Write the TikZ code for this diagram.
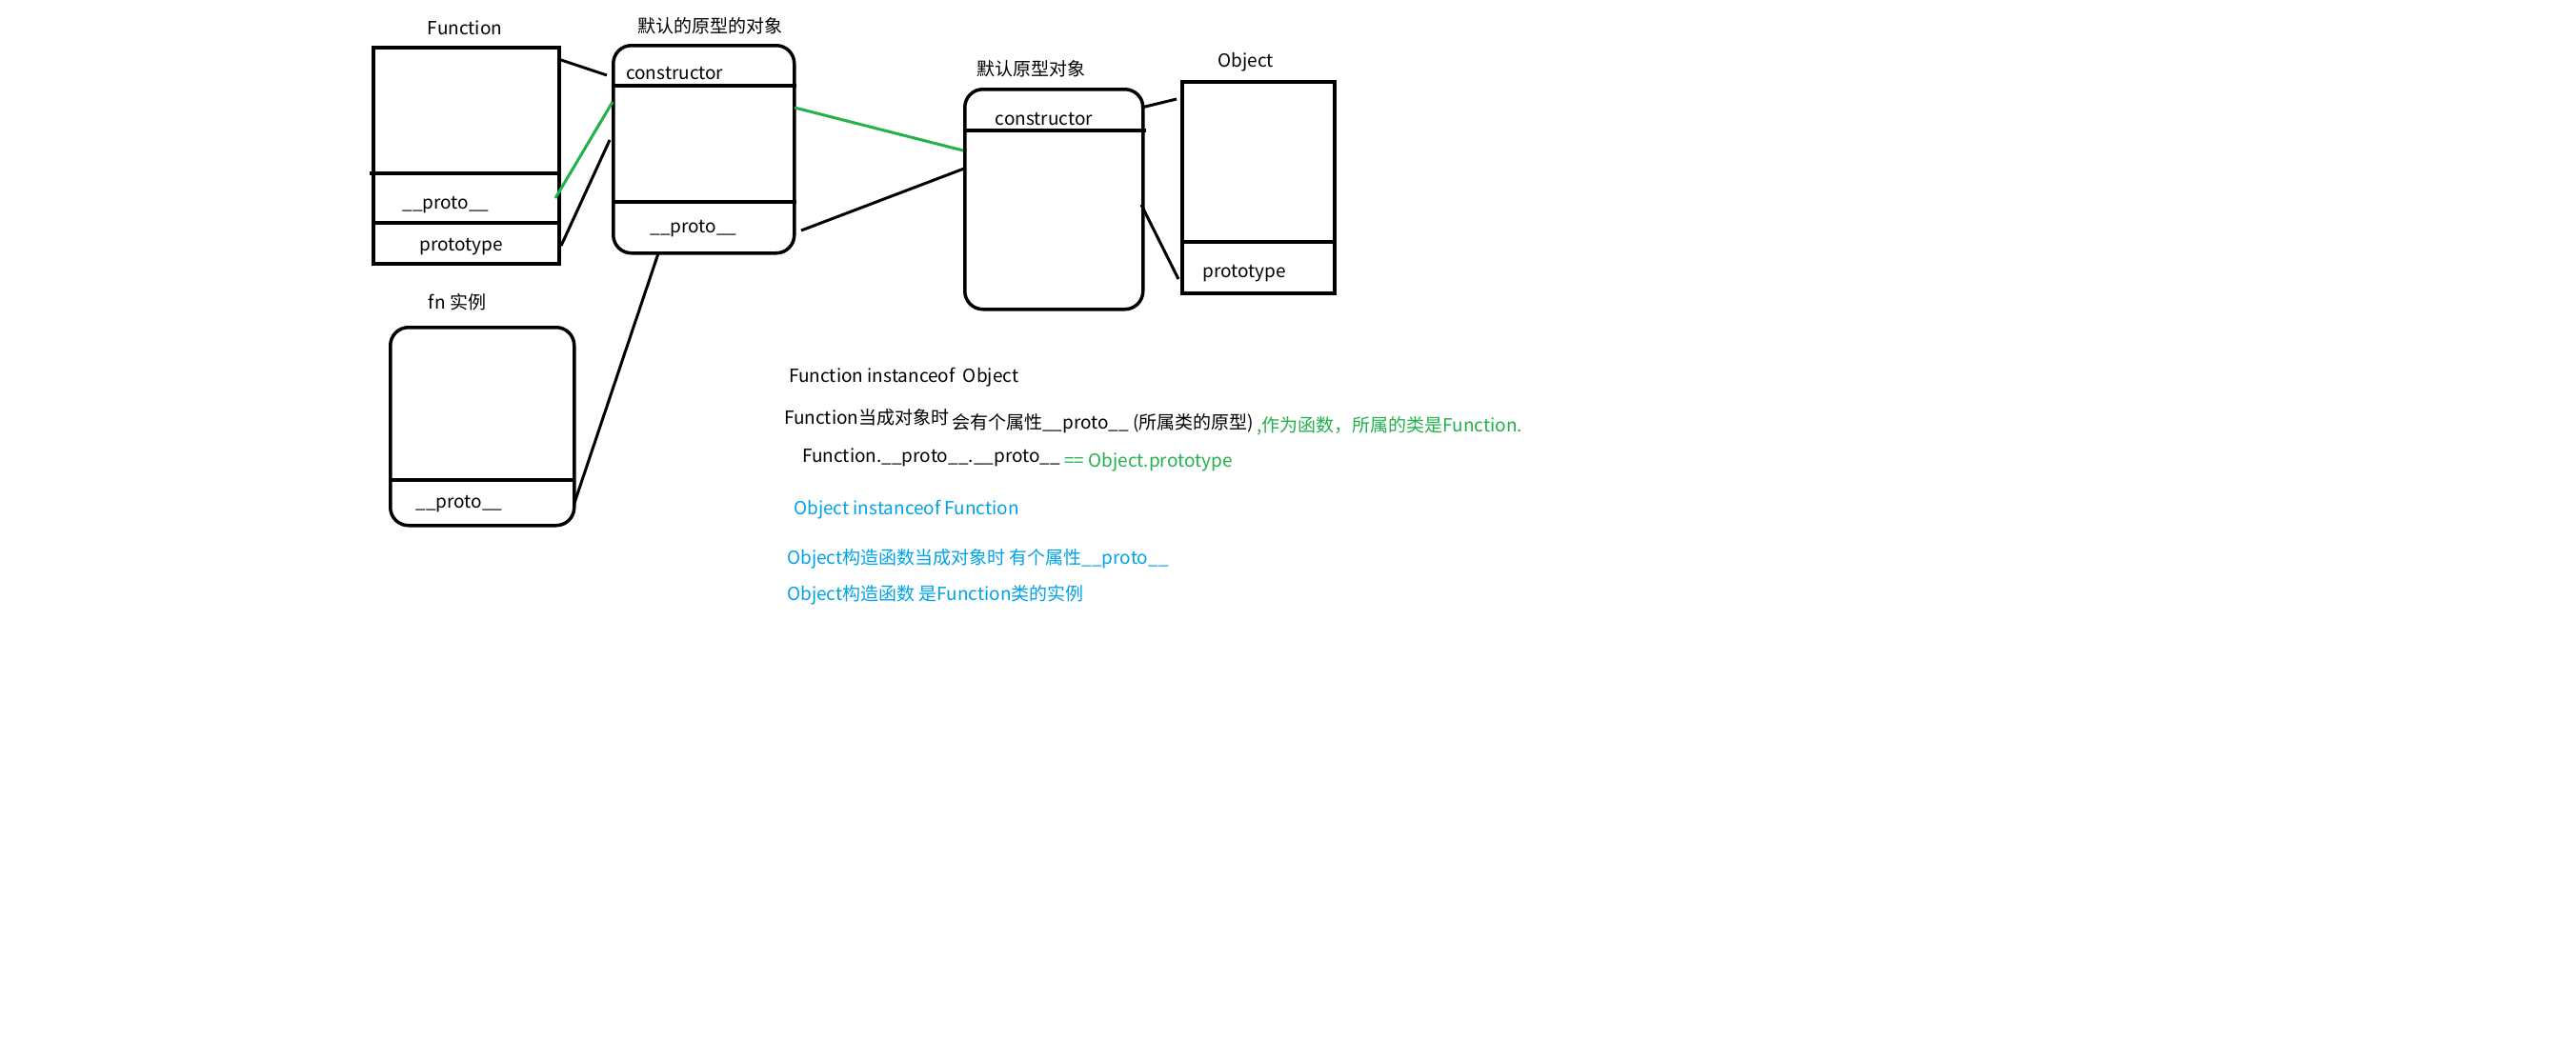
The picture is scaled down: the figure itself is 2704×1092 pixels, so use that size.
\documentclass[tikz,border=0pt]{standalone}
\usepackage{fontspec}
\setmainfont{Noto Sans CJK SC}
\definecolor{paintgreen}{RGB}{34,177,76}
\definecolor{paintblue}{RGB}{0,162,232}
\begin{document}
\begin{tikzpicture}[x=1pt,y=-1pt,
  box/.style={draw, line width=3.5pt, inner sep=0pt, anchor=north west},
  roundbox/.style={box, rounded corners=19pt},
  divider/.style={line width=3.5pt},
  link/.style={line width=3pt},
  greenlink/.style={link, draw=paintgreen},
  lbl/.style={inner sep=0pt, font=\fontsize{19}{23}\selectfont},
  note/.style={lbl, anchor=west},
]
% canvas
\fill[white] (0,0) rectangle (2704,1092);
\useasboundingbox (0,0) rectangle (2704,1092);

% Function
\node[box, minimum width=195pt, minimum height=227pt] (fbox) at (390,48) {};
\draw[divider] (388,182) -- (fbox.east |- 0,182);
\draw[divider] (fbox.west |- 0,234) -- (587,234);
\node[lbl] (ftitle) at (488,29) {Function};
\node[lbl] (fproto) at (468,215) {\_\_proto\_\_};
\node[lbl] (fprototype) at (484,259) {prototype};

% default prototype object of Function
\node[roundbox, minimum width=190pt, minimum height=218pt] (abox) at (642,46) {};
\draw[divider] (abox.west |- 0,90) -- (abox.east |- 0,90);
\draw[divider] (645,212) -- (abox.east |- 0,212);
\node[lbl] (atitle) at (745,27) {默认的原型的对象};
\node[lbl, anchor=west] (actor) at (657,77) {constructor};
\node[lbl] (aproto) at (728,240) {\_\_proto\_\_};

% default prototype object of Object
\node[roundbox, minimum width=187pt, minimum height=231pt] (bbox) at (1011,92) {};
\draw[divider] (bbox.west |- 0,137) -- (1203,137);
\node[lbl] (btitle) at (1082,72) {默认原型对象};
\node[lbl] (bctor) at (1096,125) {constructor};

% Object
\node[box, minimum width=160pt, minimum height=222pt] (obox) at (1239,84) {};
\draw[divider] (1242,254) -- (obox.east |- 0,254);
\node[lbl] (otitle) at (1308,65) {Object};
\node[lbl] (oprototype) at (1306,287) {prototype};

% fn instance
\node[roundbox, minimum width=193pt, minimum height=208pt] (nbox) at (408,342) {};
\draw[divider] (nbox.west |- 0,504) -- (603,504);
\node[lbl] (ntitle) at (480,317) {fn 实例};
\node[lbl] (nproto) at (482,529) {\_\_proto\_\_};

% connector end points
\coordinate (fTop) at (586,62);
\coordinate (aCtor) at (637,79);
\coordinate (fProtoEnd) at (583,208);
\coordinate (aBody) at (643,107);
\coordinate (fPrototypeEnd) at (589,258);
\coordinate (aBodyLow) at (640,147);
\coordinate (aBottom) at (691,266);
\coordinate (nProtoEnd) at (603,528);
\coordinate (aRight) at (834,113);
\coordinate (bBody) at (1011,158);
\coordinate (aProtoEnd) at (841,242);
\coordinate (bBodyLow) at (1012,177);
\coordinate (bCtorEnd) at (1198,113);
\coordinate (oTop) at (1235,104);
\coordinate (bRight) at (1198,215);
\coordinate (oPrototypeEnd) at (1237,293);

% connectors
\draw[link] (fTop) -- (aCtor);
\draw[greenlink] (fProtoEnd) -- (aBody);
\draw[link] (fPrototypeEnd) -- (aBodyLow);
\draw[link] (aBottom) -- (nProtoEnd);
\draw[greenlink] (aRight) -- (bBody);
\draw[link] (aProtoEnd) -- (bBodyLow);
\draw[link] (bCtorEnd) -- (oTop);
\draw[link] (bRight) -- (oPrototypeEnd);

% notes
\node[note] (n1) at (828,396) {Function instanceof\ \ Object};
\node[note] (n2) at (823,438) {Function当成对象时};
\node[note] (n3) at (999,445) {会有个属性\_\_proto\_\_ (所属类的原型)};
\node[note, text=paintgreen] (n4) at (1319,447) {,作为函数，所属的类是Function.};
\node[note] (n5) at (842,480) {Function.\_\_proto\_\_.\_\_proto\_\_};
\node[note, text=paintgreen] (n6) at (1117,485) {== Object.prototype};
\node[note, text=paintblue] (n7) at (833,535) {Object instanceof Function};
\node[note, text=paintblue] (n8) at (826,587) {Object构造函数当成对象时 有个属性\_\_proto\_\_};
\node[note, text=paintblue] (n9) at (826,625) {Object构造函数 是Function类的实例};
\end{tikzpicture}
\end{document}
